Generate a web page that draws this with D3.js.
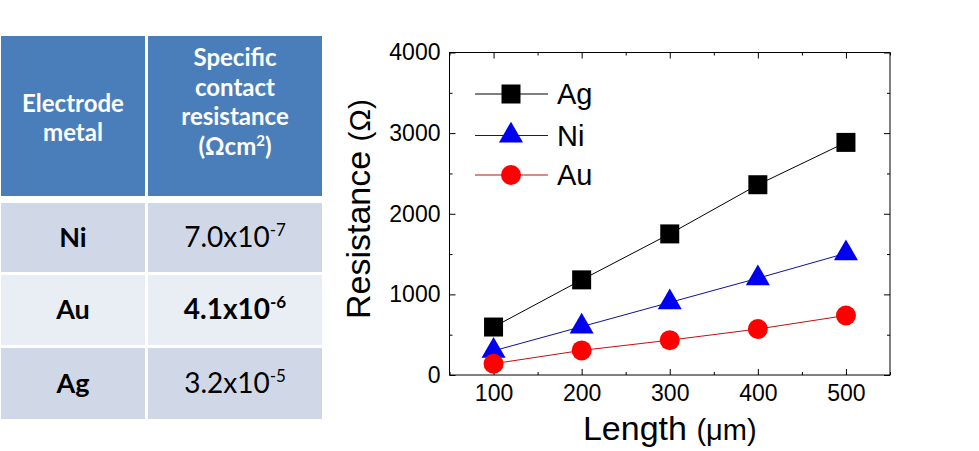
<!DOCTYPE html>
<html>
<head>
<meta charset="utf-8">
<title>Contact resistance</title>
<script src="https://cdn.jsdelivr.net/npm/d3@7"></script>
<style>
  body { margin: 0; background: #fff; }
  .tbl text { font-family: Lato, "Noto Sans", sans-serif; }
  .plot text { font-family: "Liberation Sans", Arial, sans-serif; }
  .axis path { display: none; }
  .axis line { stroke: #000; stroke-width: 1; }
</style>
</head>
<body>
<svg width="979" height="451"></svg>
<script>
// table
var metals = ["Ni", "Au", "Ag"];
var mantissa = ["7.0x10", "4.1x10", "3.2x10"];
var exponents = ["-7", "-6", "-5"];
var boldRow = [false, true, false];

// chart
var lengths = [100, 200, 300, 400, 500];
var agValues = [595, 1180, 1750, 2360, 2885];
var niValues = [300, 600, 900, 1200, 1510];
var auValues = [140, 305, 432, 570, 738];
var seriesNames = ["Ag", "Ni", "Au"];
var xTicks = [100, 200, 300, 400, 500];
var xMinor = [50, 150, 250, 350, 450, 550];
var yTicks = [0, 1000, 2000, 3000, 4000];
var yMinor = [500, 1500, 2500, 3500];

var svg = d3.select("svg");

// ---------- table ----------
var tbl = svg.append("g").attr("class", "tbl");
var cols = [[1, 145], [148, 322]];
var headTop = 36, headBot = 196;
var rowBands = [[203, 272], [275, 345], [348, 419]];
var rowFill = ["#d0d8e8", "#e9edf4", "#d0d8e8"];

cols.forEach(function(c) {
  tbl.append("rect").attr("x", c[0]).attr("y", headTop)
    .attr("width", c[1] - c[0]).attr("height", headBot - headTop)
    .attr("fill", "#4a7ebb");
});
rowBands.forEach(function(r, i) {
  cols.forEach(function(c) {
    tbl.append("rect").attr("x", c[0]).attr("y", r[0])
      .attr("width", c[1] - c[0]).attr("height", r[1] - r[0])
      .attr("fill", rowFill[i]);
  });
});

var c1 = (cols[0][0] + cols[0][1]) / 2, c2 = (cols[1][0] + cols[1][1]) / 2;
[["Electrode", 112], ["metal", 141]].forEach(function(l) {
  tbl.append("text").attr("x", c1).attr("y", l[1]).attr("text-anchor", "middle")
    .attr("fill", "#fff").style("font-weight", "bold").style("font-size", "24px").text(l[0]);
});
[["Specific", 66], ["contact", 95.5], ["resistance", 125]].forEach(function(l) {
  tbl.append("text").attr("x", c2).attr("y", l[1]).attr("text-anchor", "middle")
    .attr("fill", "#fff").style("font-weight", "bold").style("font-size", "24px").text(l[0]);
});
var unit = tbl.append("text").attr("x", c2).attr("y", 154.5).attr("text-anchor", "middle")
  .attr("fill", "#fff").style("font-weight", "bold").style("font-size", "24px");
unit.append("tspan").text("(Ωcm");
unit.append("tspan").attr("dy", -9).style("font-size", "15px").text("2");
unit.append("tspan").attr("dy", 9).text(")");

metals.forEach(function(m, i) {
  var base = (rowBands[i][0] + rowBands[i][1]) / 2 + 9;
  tbl.append("text").attr("x", c1).attr("y", base).attr("text-anchor", "middle")
    .attr("fill", "#000").style("font-weight", "bold").style("font-size", "27px").text(m);
  var t = tbl.append("text").attr("x", c2).attr("y", base).attr("text-anchor", "middle")
    .attr("fill", "#000").style("font-weight", boldRow[i] ? "bold" : "normal")
    .style("font-size", "28px");
  t.append("tspan").text(mantissa[i]);
  t.append("tspan").attr("dy", -11).style("font-size", "17px").text(exponents[i]);
});

// ---------- plot ----------
var plot = svg.append("g").attr("class", "plot");
var x = d3.scaleLinear().domain([50, 550]).range([449.5, 890]);
var y = d3.scaleLinear().domain([0, 4000]).range([375, 52.5]);

plot.append("rect").attr("x", x(50)).attr("y", y(4000))
  .attr("width", x(550) - x(50)).attr("height", y(0) - y(4000))
  .attr("fill", "none").attr("stroke", "#000").attr("stroke-width", 1);

function addAxis(axis, tf) {
  return plot.append("g").attr("class", "axis").attr("transform", tf).call(axis);
}
var fmt = d3.format("d");
var bottom = addAxis(d3.axisBottom(x).tickValues(xTicks).tickFormat(fmt).tickSize(-6).tickSizeOuter(0).tickPadding(10),
  "translate(0," + y(0) + ")");
bottom.selectAll("text").style("font-size", "23px").attr("fill", "#000");
addAxis(d3.axisBottom(x).tickValues(xMinor).tickSize(-3).tickSizeOuter(0).tickFormat(""), "translate(0," + y(0) + ")");
addAxis(d3.axisTop(x).tickValues(xTicks).tickSize(-6).tickSizeOuter(0).tickFormat(""), "translate(0," + y(4000) + ")");
addAxis(d3.axisTop(x).tickValues(xMinor).tickSize(-3).tickSizeOuter(0).tickFormat(""), "translate(0," + y(4000) + ")");

var left = addAxis(d3.axisLeft(y).tickValues(yTicks).tickFormat(fmt).tickSize(-6).tickSizeOuter(0).tickPadding(9),
  "translate(" + x(50) + ",0)");
left.selectAll("text").style("font-size", "23px").attr("fill", "#000");
addAxis(d3.axisLeft(y).tickValues(yMinor).tickSize(-3).tickSizeOuter(0).tickFormat(""), "translate(" + x(50) + ",0)");
addAxis(d3.axisRight(y).tickValues(yTicks).tickSize(-6).tickSizeOuter(0).tickFormat(""), "translate(" + x(550) + ",0)");
addAxis(d3.axisRight(y).tickValues(yMinor).tickSize(-3).tickSizeOuter(0).tickFormat(""), "translate(" + x(550) + ",0)");

// axis titles
var xt = plot.append("text").attr("x", (x(50) + x(550)) / 2).attr("y", 440)
  .attr("text-anchor", "middle").attr("fill", "#000").style("font-size", "34px");
xt.append("tspan").text("Length ");
xt.append("tspan").style("font-size", "29px").text("(μm)");

var yt = plot.append("text").attr("transform", "translate(370,209) rotate(-90)")
  .attr("text-anchor", "middle").attr("fill", "#000").style("font-size", "34px");
yt.append("tspan").text("Resistance ");
yt.append("tspan").style("font-size", "30px").text("(Ω)");

// series
var series = [
  { name: seriesNames[0], values: agValues, line: "#000", fill: "#000", shape: d3.symbolSquare, size: 361 },
  { name: seriesNames[1], values: niValues, line: "#10109a", fill: "#0000f0", shape: d3.symbolTriangle, size: 250 },
  { name: seriesNames[2], values: auValues, line: "#c01010", fill: "#ff0000", shape: d3.symbolCircle, size: 314 }
];

var line = d3.line().x(function(d) { return x(d[0]); }).y(function(d) { return y(d[1]); });

series.forEach(function(s) {
  var pts = lengths.map(function(l, i) { return [l, s.values[i]]; });
  plot.append("path").datum(pts).attr("d", line)
    .attr("fill", "none").attr("stroke", s.line).attr("stroke-width", 1);
});
series.forEach(function(s) {
  var pts = lengths.map(function(l, i) { return [l, s.values[i]]; });
  plot.selectAll(null).data(pts).enter().append("path")
    .attr("transform", function(d) { return "translate(" + x(d[0]) + "," + y(d[1]) + ")"; })
    .attr("d", d3.symbol().type(s.shape).size(s.size))
    .attr("fill", s.fill);
});

// legend
var legY = [94, 135.5, 175];
series.forEach(function(s, i) {
  var g = plot.append("g").attr("transform", "translate(0," + legY[i] + ")");
  g.append("line").attr("x1", 475).attr("x2", 548).attr("y1", 0).attr("y2", 0)
    .attr("stroke", s.line).attr("stroke-width", 1);
  g.append("path").attr("transform", "translate(511,0)")
    .attr("d", d3.symbol().type(s.shape).size(s.size)).attr("fill", s.fill);
  g.append("text").attr("x", 557).attr("y", 10).attr("fill", "#000")
    .style("font-size", "29px").text(s.name);
});
</script>
</body>
</html>
